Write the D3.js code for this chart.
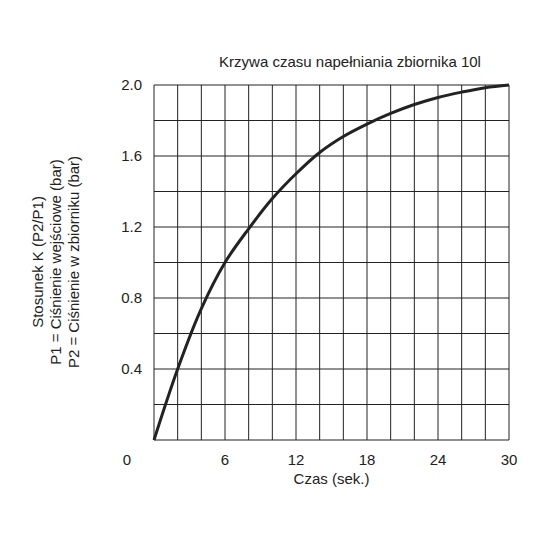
<!DOCTYPE html><html><head><meta charset="utf-8"><script src="https://cdn.jsdelivr.net/npm/d3@7"></script>
<style>body{margin:0;background:#fff}text{font-family:"Liberation Sans",Arial,sans-serif;fill:#222}</style></head><body><script>
const times=[0,2,4,6,8,10,12,14,16,18,20,22,24,26,28,30];
const ratio=[0,0.4,0.74,1.0,1.19,1.36,1.5,1.62,1.71,1.78,1.84,1.89,1.93,1.96,1.985,2.0];
const xTicks=[6,12,18,24,30];
const yTicks=[0.4,0.8,1.2,1.6,2.0];
const title="Krzywa czasu napełniania zbiornika 10l";
const yLabels=["Stosunek K (P2/P1)","P1 = Ciśnienie wejściowe (bar)","P2 = Ciśnienie w zbiorniku (bar)"];
const svg=d3.select("body").append("svg").attr("width",540).attr("height",540);
const x=d3.scaleLinear().domain([0,30]).range([154,509]);
const y=d3.scaleLinear().domain([0,2]).range([440,85]);
const g=svg.append("g");
g.selectAll(".v").data(d3.range(0,31,2)).join("line").attr("x1",d=>x(d)).attr("x2",d=>x(d)).attr("y1",y(0)).attr("y2",y(2)).attr("stroke","#222").attr("stroke-width",1);
g.selectAll(".h").data(d3.range(0,11).map(i=>i*0.2)).join("line").attr("y1",d=>y(d)).attr("y2",d=>y(d)).attr("x1",x(0)).attr("x2",x(30)).attr("stroke","#222").attr("stroke-width",1);
svg.append("path").datum(times.map((t,i)=>[t,ratio[i]])).attr("d",d3.line().x(d=>x(d[0])).y(d=>y(d[1])).curve(d3.curveCatmullRom)).attr("fill","none").attr("stroke","#222").attr("stroke-width",3);
svg.selectAll(".xt").data(xTicks).join("text").attr("x",d=>x(d)).attr("y",465).attr("text-anchor","middle").attr("font-size",15).text(d=>d);
svg.selectAll(".yt").data(yTicks).join("text").attr("x",142).attr("y",d=>y(d)+5).attr("text-anchor","end").attr("font-size",15).text(d=>d.toFixed(1));
svg.append("text").attr("x",127).attr("y",465).attr("text-anchor","middle").attr("font-size",15).text("0");
svg.append("text").attr("x",x(15)).attr("y",484).attr("text-anchor","middle").attr("font-size",15).text("Czas (sek.)");
svg.append("text").attr("x",350).attr("y",67).attr("text-anchor","middle").attr("font-size",15).text(title);
yLabels.forEach((t,i)=>svg.append("text").attr("transform",`translate(${43+i*18},262) rotate(-90)`).attr("text-anchor","middle").attr("font-size",15).text(t));
</script></body></html>
